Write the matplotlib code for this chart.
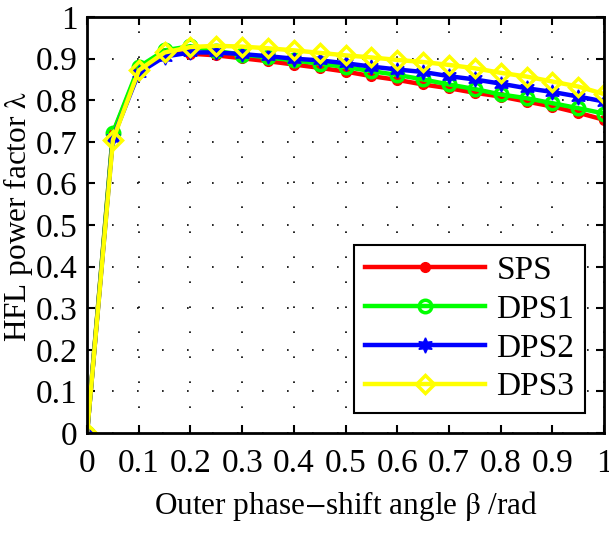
import matplotlib.pyplot as plt

# outer phase-shift angle (rad)
beta = [0.0, 0.05, 0.1, 0.15, 0.2, 0.25, 0.3, 0.35, 0.4, 0.45, 0.5,
        0.55, 0.6, 0.65, 0.7, 0.75, 0.8, 0.85, 0.9, 0.95, 1.0]

# power factor
sps = [0.0, 0.72, 0.875, 0.913, 0.912, 0.908, 0.901, 0.894, 0.886, 0.878, 0.869,
       0.858, 0.849, 0.838, 0.829, 0.818, 0.809, 0.797, 0.785, 0.770, 0.753]
dps1 = [0.0, 0.722, 0.88, 0.92, 0.93, 0.918, 0.910, 0.903, 0.896, 0.888, 0.880,
        0.870, 0.861, 0.850, 0.838, 0.827, 0.814, 0.805, 0.793, 0.781, 0.768]
dps2 = [0.0, 0.71, 0.866, 0.905, 0.915, 0.915, 0.911, 0.906, 0.900, 0.896, 0.889,
        0.881, 0.874, 0.868, 0.858, 0.850, 0.840, 0.829, 0.820, 0.809, 0.797]
dps3 = [0.0, 0.705, 0.872, 0.915, 0.928, 0.931, 0.929, 0.925, 0.920, 0.914, 0.908,
        0.903, 0.897, 0.892, 0.885, 0.877, 0.866, 0.857, 0.845, 0.833, 0.815]

names = ["SPS", "DPS1", "DPS2", "DPS3"]

plt.rcParams['font.family'] = ['Liberation Serif', 'DejaVu Serif']
plt.rcParams['mathtext.fontset'] = 'stix'

fs = 24

fig = plt.figure(figsize=(6.09, 5.34), dpi=100)
ax = fig.add_axes([0.143, 0.189, 0.849, 0.779])

lw = 3.2
ax.plot(beta, sps, color='#ff0000', lw=lw, marker='o', ms=7,
        mfc='#ff0000', mec='#ff0000', label=names[0])
ax.plot(beta, dps1, color='#00ff00', lw=lw, marker='o', ms=9,
        mfc='none', mec='#00ff00', mew=2.5, label=names[1])
ax.plot(beta, dps2, color='#0000ff', lw=lw, marker=(6, 1, 0), ms=11,
        mfc='#0000ff', mec='#0000ff', label=names[2])
ax.plot(beta, dps3, color='#ffff00', lw=lw, marker='D', ms=9,
        mfc='none', mec='#ffff00', mew=2.5, label=names[3])

ax.set_xlim(0, 1)
ax.set_ylim(0, 1)
ax.set_xticks([i / 10 for i in range(11)])
ax.set_yticks([i / 10 for i in range(11)])
ax.set_xticklabels(['0'] + ['%.1f' % (i / 10) for i in range(1, 10)] + ['1'])
ax.set_yticklabels(['0'] + ['%.1f' % (i / 10) for i in range(1, 10)] + ['1'])

ax.tick_params(direction='in', length=6, width=1.5, labelsize=fs,
               top=True, right=True)
ax.tick_params(axis='x', pad=11)
ax.tick_params(axis='y', pad=7)
for s in ax.spines.values():
    s.set_linewidth(2)

ax.grid(True, color='black', linestyle=(0, (1, 14)), linewidth=1.2)

ax.set_xlabel(r'Outer phase$-$shift angle $\mathrm{\beta}$ /rad', fontsize=22.5, labelpad=7)
ax.set_ylabel(r'HFL power factor $\mathrm{\lambda}$', fontsize=22.5, va='center')
ax.yaxis.set_label_coords(-0.133, 0.52)

leg = ax.legend(loc='lower right', fontsize=fs, fancybox=False, framealpha=1,
                edgecolor='black', handlelength=3.6, borderpad=0.32,
                labelspacing=0.25, handletextpad=0.35, borderaxespad=0,
                bbox_to_anchor=(0.963, 0.048))
leg.get_frame().set_linewidth(1.5)

fig.savefig('out.png', dpi=100)
